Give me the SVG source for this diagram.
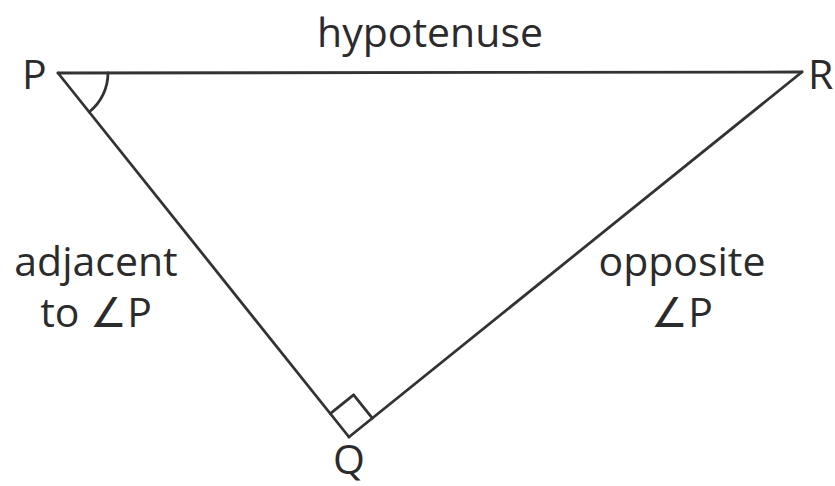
<svg xmlns="http://www.w3.org/2000/svg" width="835" height="486" viewBox="0 0 835 486">
<style>
.t{font-family:"Open Sans","Liberation Sans",sans-serif;font-size:41px;fill:#2b2b2b}
.ln{stroke:#333;stroke-width:2.8;fill:none;stroke-linecap:round;stroke-linejoin:round}
</style>
<rect width="835" height="486" fill="#fff"/>
<g id="connectors">
<path class="ln" d="M58,73 L802,72"/>
<path class="ln" d="M58,73 L349,437"/>
<path class="ln" d="M349,437 L802,72"/>
<path class="ln" d="M108,73 A50,50 0 0 1 89.2,112"/>
<path class="ln" d="M330.3,413.6 L353.6,394.8 L372.3,418.2"/>
</g>
<g id="node-P"><text class="t" x="22" y="89">P</text></g>
<g id="node-R"><text class="t" x="808" y="89">R</text></g>
<g id="node-Q"><text class="t" x="349" y="474" text-anchor="middle">Q</text></g>
<g id="label-hyp"><text class="t" x="430" y="47" text-anchor="middle">hypotenuse</text></g>
<g id="label-adj"><text class="t" text-anchor="middle"><tspan x="96" y="276">adjacent</tspan><tspan x="96" y="327">to ∠P</tspan></text></g>
<g id="label-opp"><text class="t" text-anchor="middle"><tspan x="682" y="276">opposite</tspan><tspan x="682" y="327">∠P</tspan></text></g>
</svg>
